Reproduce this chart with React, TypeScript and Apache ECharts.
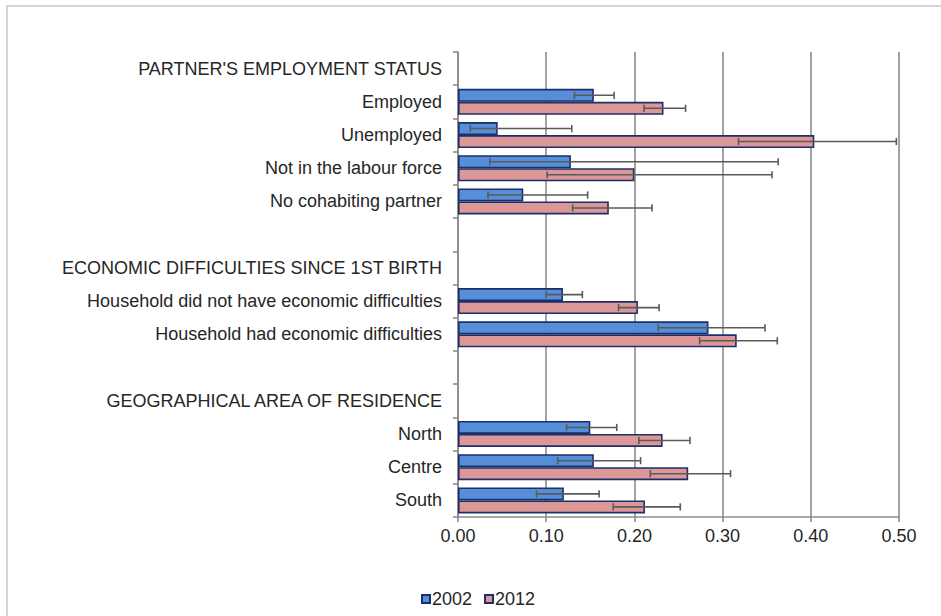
import React, { useEffect, useRef } from "react";
import * as echarts from "echarts";

// Category rows, top to bottom (section headings and spacer rows carry no bars)
const categories = [
  "PARTNER'S EMPLOYMENT STATUS",
  "Employed",
  "Unemployed",
  "Not in the labour force",
  "No cohabiting partner",
  "",
  "ECONOMIC DIFFICULTIES SINCE 1ST BIRTH",
  "Household did not have economic difficulties",
  "Household had economic difficulties",
  " ",
  "GEOGRAPHICAL AREA OF RESIDENCE",
  "North",
  "Centre",
  "South",
];

const years = ["2002", "2012"];

const values2002 = [null, 0.154, 0.045, 0.128, 0.074, null, null, 0.119, 0.284, null, null, 0.15, 0.154, 0.12];
const low2002 = [null, 0.132, 0.014, 0.036, 0.034, null, null, 0.1, 0.227, null, null, 0.123, 0.113, 0.089];
const high2002 = [null, 0.177, 0.129, 0.363, 0.147, null, null, 0.141, 0.348, null, null, 0.18, 0.207, 0.16];

const values2012 = [null, 0.233, 0.404, 0.2, 0.171, null, null, 0.204, 0.316, null, null, 0.232, 0.261, 0.212];
const low2012 = [null, 0.211, 0.318, 0.101, 0.13, null, null, 0.182, 0.274, null, null, 0.205, 0.218, 0.176];
const high2012 = [null, 0.258, 0.497, 0.356, 0.22, null, null, 0.228, 0.362, null, null, 0.263, 0.309, 0.252];

const xTicks = { min: 0, max: 0.5, interval: 0.1 };

const BAR_W = 13;
const FONT = "'Liberation Sans', Arial, sans-serif";
const TEXT = "#262626";

function errorData(low: (number | null)[], high: (number | null)[]) {
  const out: number[][] = [];
  low.forEach((lo, i) => {
    const hi = high[i];
    if (lo != null && hi != null) out.push([lo, hi, i]);
  });
  return out;
}

function errorSeries(name: string, low: (number | null)[], high: (number | null)[], offset: number) {
  return {
    type: "custom",
    name: name + " CI",
    z: 5,
    silent: true,
    encode: { x: [0, 1], y: 2 },
    data: errorData(low, high),
    renderItem: (params: any, api: any) => {
      const cat = api.value(2);
      const a = api.coord([api.value(0), cat]);
      const b = api.coord([api.value(1), cat]);
      const y = a[1] + offset;
      const cap = 3.6;
      const style = { stroke: "#5a5a5a", lineWidth: 1.6 };
      return {
        type: "group",
        children: [
          { type: "line", shape: { x1: a[0], y1: y, x2: b[0], y2: y }, style },
          { type: "line", shape: { x1: a[0], y1: y - cap, x2: a[0], y2: y + cap }, style },
          { type: "line", shape: { x1: b[0], y1: y - cap, x2: b[0], y2: y + cap }, style },
        ],
      };
    },
  };
}

export default function App() {
  const ref = useRef<HTMLDivElement>(null);

  useEffect(() => {
    if (!ref.current) return;
    const chart = echarts.init(ref.current, undefined, { renderer: "svg" });
    chart.setOption({
      animation: false,
      backgroundColor: "#ffffff",
      textStyle: { fontFamily: FONT },
      graphic: [
        {
          type: "rect",
          shape: { x: 7, y: 6, width: 950, height: 630 },
          style: { fill: "none", stroke: "#c8c8c8", lineWidth: 1.6 },
          silent: true,
        },
      ],
      grid: { left: 458, right: 42, top: 52, bottom: 99 },
      legend: {
        data: years,
        left: 416,
        top: 585,
        itemWidth: 8,
        itemHeight: 8,
        itemGap: 12,
        icon: "rect",
        textStyle: { fontSize: 18, color: TEXT, fontFamily: FONT, padding: [0, 0, 0, -3] },
      },
      xAxis: {
        type: "value",
        min: xTicks.min,
        max: xTicks.max,
        interval: xTicks.interval,
        axisLine: { show: true, lineStyle: { color: "#8c8c8c", width: 1.6 } },
        axisTick: { show: true, length: 5, lineStyle: { color: "#8c8c8c", width: 1.6 } },
        splitLine: { show: true, lineStyle: { color: "#8c8c8c", width: 1.6 } },
        axisLabel: {
          formatter: (v: number) => v.toFixed(2),
          fontSize: 18,
          color: TEXT,
          fontFamily: FONT,
          margin: 10,
        },
      },
      yAxis: {
        type: "category",
        inverse: true,
        data: categories,
        axisLine: { show: true, lineStyle: { color: "#8c8c8c", width: 1.6 } },
        axisTick: { show: true, length: 5, lineStyle: { color: "#8c8c8c", width: 1.6 } },
        axisLabel: { fontSize: 18, color: TEXT, fontFamily: FONT, margin: 16, interval: 0 },
        splitLine: { show: false },
      },
      series: [
        {
          type: "bar",
          name: years[0],
          data: values2002,
          barWidth: BAR_W,
          barGap: "0%",
          itemStyle: { color: "#568fd8", borderColor: "#1c2f6b", borderWidth: 1.6 },
        },
        {
          type: "bar",
          name: years[1],
          data: values2012,
          barWidth: BAR_W,
          barGap: "0%",
          itemStyle: { color: "#dc9897", borderColor: "#1c2f6b", borderWidth: 1.6 },
        },
        errorSeries(years[0], low2002, high2002, -BAR_W / 2),
        errorSeries(years[1], low2012, high2012, BAR_W / 2),
      ],
    });
    return () => chart.dispose();
  }, []);

  return (
    <div
      ref={ref}
      style={{ position: "absolute", left: 0, top: 0, width: 941, height: 616 }}
    />
  );
}
